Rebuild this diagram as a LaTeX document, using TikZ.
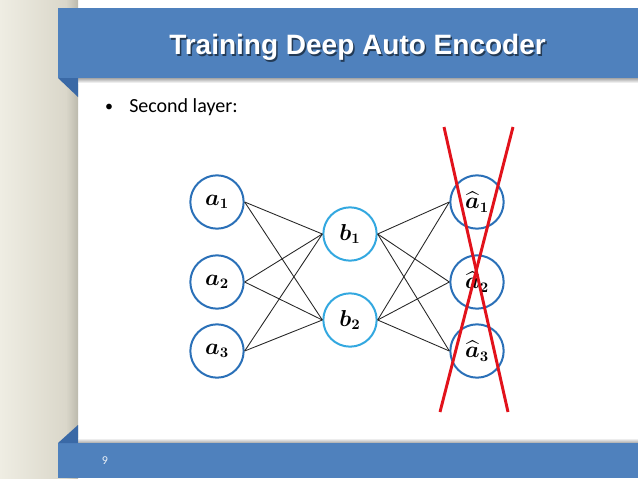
\documentclass[tikz,border=0pt]{standalone}
\usepackage{amsmath}
\usepackage{fontspec}
\newfontfamily\bodyfont{Carlito}
\newfontfamily\headfont{Liberation Sans}
\definecolor{band}{HTML}{4F81BD}
\definecolor{bandfold}{HTML}{3A69A6}
\definecolor{stripl}{HTML}{EFEDE3}
\definecolor{stripr}{HTML}{DAD7CA}
\definecolor{stripedge}{HTML}{BCB9AC}
\definecolor{nodeblue}{HTML}{2A70B8}
\definecolor{hidblue}{HTML}{33A8E0}
\definecolor{wiregray}{HTML}{262626}
\definecolor{crossred}{HTML}{E2121B}

\begin{document}
\begin{tikzpicture}[x=0.75pt, y=-0.75pt,
        unit/.style = {draw, circle, line width=1.5pt, minimum size=40pt, inner sep=0pt, font=\fontsize{16}{19}\selectfont},
        inp/.style = {unit, draw=nodeblue},
        hid/.style = {unit, draw=hidblue},
        wire/.style = {line width=0.65pt, draw=wiregray},
        cross/.style = {line width=2.2pt, draw=crossred}]
        \useasboundingbox (0,0) rectangle (638,478);
        \fill[white] (0,0) rectangle (638,478);
        % left strip
        \shade[left color=stripl, right color=stripr] (0,0) rectangle (66,478);
        \shade[left color=stripr, right color=stripedge] (66,0) rectangle (78,478);
        % title band
        \shade[top color=black!35, bottom color=white] (78,78) rectangle (638,83);
        \fill[band] (58,8) rectangle (638,78);
        \fill[bandfold] (58,78) -- (78,78) -- (78,97) -- cycle;
        % footer band
        \shade[top color=white, bottom color=black!35] (78,438) rectangle (638,443);
        \fill[band] (58,443) rectangle (638,478);
        \fill[bandfold] (58,443) -- (78,425) -- (78,443) -- cycle;
        \node[anchor=base, font=\headfont\bfseries\fontsize{21}{25}\selectfont, text=black!55!band] (tshadow) at (359,56.5) {Training Deep Auto Encoder};
        \node[anchor=base, font=\headfont\bfseries\fontsize{21}{25}\selectfont, text=white] (title) at (357.5,55) {Training Deep Auto Encoder};
        \node[font=\bodyfont\fontsize{9}{11}\selectfont, text=white!88!band] (pnum) at (105,461) {9};
        \node[anchor=base, inner sep=0pt, font=\bodyfont\fontsize{12}{14}\selectfont] (bullet) at (109,111) {•};
        \node[anchor=base west, inner sep=0pt, font=\bodyfont\fontsize{15}{18}\selectfont] (point) at (129,112) {Second layer:};
        % units
        \node[inp] (a1) at (217,202) {$\boldsymbol{a}_{\boldsymbol{1}}$};
        \node[inp] (a2) at (217,282) {$\boldsymbol{a}_{\boldsymbol{2}}$};
        \node[inp] (a3) at (217,351) {$\boldsymbol{a}_{\boldsymbol{3}}$};
        \node[hid] (b1) at (350,234) {$\boldsymbol{b}_{\boldsymbol{1}}$};
        \node[hid] (b2) at (350,320) {$\boldsymbol{b}_{\boldsymbol{2}}$};
        \node[inp] (h1) at (477,202) {$\widehat{\boldsymbol{a}}_{\boldsymbol{1}}$};
        \node[inp] (h2) at (477,282) {$\widehat{\boldsymbol{a}}_{\boldsymbol{2}}$};
        \node[inp] (h3) at (477,351) {$\widehat{\boldsymbol{a}}_{\boldsymbol{3}}$};
        \draw[wire] (a1.east) edge (b1.west);
        \draw[wire] (a1.east) edge (b2.west);
        \draw[wire] (a2.east) edge (b1.west);
        \draw[wire] (a2.east) edge (b2.west);
        \draw[wire] (a3.east) edge (b1.west);
        \draw[wire] (a3.east) edge (b2.west);
        \draw[wire] (b1.east) edge (h1.west);
        \draw[wire] (b1.east) edge (h2.west);
        \draw[wire] (b1.east) edge (h3.west);
        \draw[wire] (b2.east) edge (h1.west);
        \draw[wire] (b2.east) edge (h2.west);
        \draw[wire] (b2.east) edge (h3.west);
        % crossed out
        \coordinate (x1) at (444,127);
        \coordinate (x2) at (508,412);
        \coordinate (y1) at (513,127);
        \coordinate (y2) at (440,412);
        \draw[cross] (x1) -- (x2);
        \draw[cross] (y1) -- (y2);
\end{tikzpicture}
\end{document}
